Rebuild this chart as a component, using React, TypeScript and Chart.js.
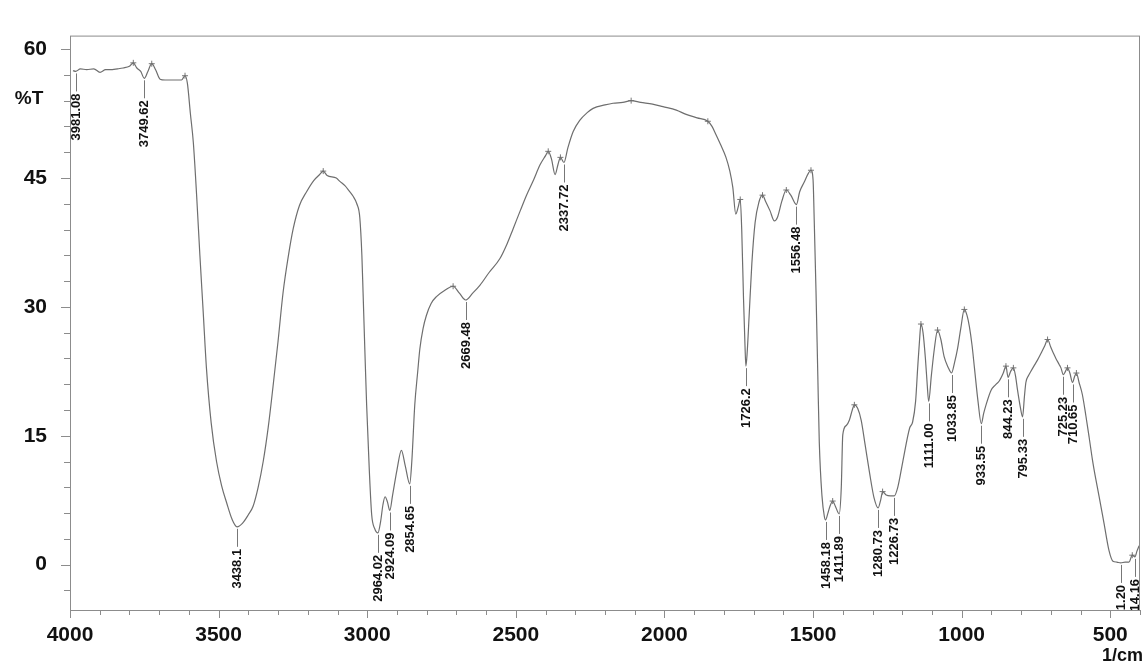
import { useEffect, useRef } from 'react';
import { Chart, registerables } from 'chart.js';

Chart.register(...registerables);

// Spectrum: wavenumber (1/cm) and transmittance (%T)
const wavenumbers = [
  3990, 3981, 3965, 3944, 3920, 3899, 3880, 3866, 3840, 3821, 3800, 3787, 3775, 3762, 3750, 3738, 3725, 3712,
  3697, 3680, 3650, 3625, 3613, 3605, 3595, 3585, 3574, 3563, 3552, 3541, 3525, 3507, 3490, 3473, 3455, 3438,
  3420, 3400, 3384, 3367, 3350, 3333, 3317, 3300, 3283, 3265, 3249, 3228, 3204, 3180, 3160, 3148, 3135, 3104,
  3092, 3075, 3059, 3048, 3035, 3025, 3018, 3014, 3008, 3002, 2993, 2985, 2975, 2964, 2955, 2947, 2940, 2932,
  2924, 2915, 2900, 2885, 2872, 2857, 2850, 2840, 2830, 2823, 2812, 2801, 2785, 2767, 2740, 2711, 2690, 2669,
  2645, 2621, 2590, 2554, 2530, 2509, 2485, 2464, 2440, 2419, 2400, 2391, 2380, 2368, 2358, 2350, 2338, 2325,
  2307, 2285, 2260, 2240, 2200, 2173, 2140, 2112, 2080, 2040, 2005, 1960, 1927, 1890, 1854, 1840, 1826, 1810,
  1793, 1780, 1770, 1760, 1752, 1745, 1740, 1734, 1729, 1726, 1722, 1715, 1706, 1695, 1682, 1670, 1660, 1645,
  1630, 1620, 1605, 1590, 1575, 1556, 1545, 1530, 1515, 1507, 1500, 1496, 1490, 1484, 1479, 1470, 1462, 1458,
  1450, 1445, 1434, 1425, 1412, 1405, 1400, 1388, 1378, 1368, 1361, 1350, 1338, 1325, 1310, 1295, 1281, 1272,
  1266, 1254, 1240, 1227, 1215, 1198, 1175, 1165, 1155, 1148, 1141, 1137, 1130, 1122, 1116, 1111, 1102, 1092,
  1081, 1070, 1059, 1046, 1034, 1024, 1014, 1003, 991, 982, 974, 965, 957, 945, 934, 926, 918, 901, 887, 873,
  860, 851, 844, 835, 826, 819, 812, 803, 795, 789, 784, 775, 767, 757, 745, 730, 720, 711, 700, 690, 683, 672,
  666, 658, 652, 644, 636, 627, 620, 614, 605, 594, 582, 571, 560, 549, 538, 521, 504, 491, 478, 465, 450, 437,
  426, 417, 410, 403,
];

const transmittance = [
  57.5, 57.4, 57.7, 57.6, 57.7, 57.3, 57.6, 57.6, 57.7, 57.8, 58.0, 58.4, 57.8, 57.4, 56.6, 57.4, 58.3, 57.6,
  56.5, 56.4, 56.4, 56.4, 56.9, 56.0, 52.5, 49.1, 43.0, 36.0, 29.5, 22.9, 16.5, 12.0, 9.2, 7.2, 5.3, 4.4,
  4.8, 5.8, 6.8, 9.0, 12.0, 16.0, 20.7, 26.0, 31.7, 36.0, 39.1, 41.8, 43.4, 44.7, 45.4, 45.8, 45.3, 45.0,
  44.6, 44.1, 43.4, 42.9, 42.0, 40.4, 36.0, 31.7, 25.0, 18.6, 11.0, 5.8, 4.2, 3.7, 5.0, 7.0, 7.9, 7.3,
  6.3, 8.0, 11.0, 13.3, 11.5, 9.4, 12.0, 18.6, 22.5, 25.1, 27.5, 29.0, 30.4, 31.2, 31.9, 32.4, 31.6, 30.8,
  31.6, 32.5, 34.0, 35.6, 37.3, 39.1, 41.2, 43.0, 44.8, 46.5, 47.6, 48.1, 47.2, 45.4, 46.6, 47.4, 46.8, 48.5,
  50.4, 51.7, 52.6, 53.1, 53.5, 53.7, 53.8, 54.0, 53.8, 53.6, 53.3, 52.9, 52.4, 52.0, 51.6, 51.0, 50.0, 48.8,
  47.4, 45.8, 43.9, 40.8, 41.6, 42.5, 39.0, 31.0, 25.5, 23.1, 24.5, 29.0, 35.0, 39.8, 42.2, 43.0, 42.3, 41.2,
  40.0, 40.4, 42.3, 43.6, 43.0, 41.9, 43.4, 44.5, 45.6, 45.9, 44.8, 40.0, 31.7, 22.0, 14.2, 8.0, 5.6, 5.2,
  6.0, 6.6, 7.4, 6.8, 5.9, 9.0, 15.1, 16.2, 16.8, 18.0, 18.6, 18.2, 16.8, 14.0, 10.7, 7.8, 6.6, 7.6,
  8.5, 8.1, 8.0, 8.0, 9.0, 12.0, 15.9, 16.6, 19.0, 22.9, 26.5, 28.0, 27.0, 24.0, 21.0, 19.0, 22.0, 25.1,
  27.3, 26.2, 24.2, 23.0, 22.3, 23.5, 25.1, 27.5, 29.7, 29.0, 27.7, 25.5, 22.9, 19.0, 16.4, 17.6, 18.6, 20.3, 20.9, 21.4,
  22.3, 23.1, 21.8, 22.5, 22.9, 22.0, 20.3, 18.4, 17.2, 19.5, 21.2, 22.0, 22.5, 23.1, 23.8, 24.8, 25.5, 26.2, 25.3, 24.5, 24.0, 23.3,
  22.9, 22.1, 22.4, 22.9, 22.3, 21.2, 21.9, 22.3, 21.2, 19.8, 17.3, 14.8, 12.2, 10.0, 8.0, 4.8, 1.6, 0.4, 0.3, 0.2, 0.3, 0.3,
  1.1, 0.9, 1.6, 2.2,
];

// Peak annotations: printed text and the wavenumber where each label's leader sits
const peakTexts = [
  '3981.08', '3749.62', '3438.1', '2964.02', '2924.09', '2854.65', '2669.48', '2337.72', '1726.2', '1556.48',
  '1458.18', '1411.89', '1280.73', '1226.73', '1111.00', '1033.85', '933.55', '844.23', '795.33', '725.23',
  '710.65', '461.20', '414.16',
];
const peakPositions = [
  3981, 3750, 3438, 2964, 2924, 2857, 2669, 2338, 1726, 1556,
  1458, 1412, 1281, 1227, 1111, 1034, 934, 844, 795, 658,
  627, 465, 417,
];

// Small cross markers at local maxima
const markerWavenumbers = [
  3787, 3725, 3613, 3148, 2711, 2391, 2350, 2112, 1854, 1745, 1670, 1590, 1507, 1434, 1361, 1266,
  1137, 1081, 991, 851, 826, 711, 644, 614, 426,
];

const xTickValues: number[] = [];
for (let v = 400; v <= 4000; v += 100) xTickValues.push(v);
const yTickValues: number[] = [];
for (let v = -3; v <= 60; v += 3) yTickValues.push(v);

const X_MIN = 400;
const X_MAX = 4000;
const Y_MIN = -5.28;
const Y_MAX = 61.57;

const FONT = '"Liberation Sans", Arial, Helvetica, sans-serif';

function interpT(wn: number): number {
  for (let i = 0; i < wavenumbers.length - 1; i++) {
    const a = wavenumbers[i];
    const b = wavenumbers[i + 1];
    if (wn <= a && wn >= b) {
      const t = (a - wn) / (a - b);
      return transmittance[i] + t * (transmittance[i + 1] - transmittance[i]);
    }
  }
  return wn > wavenumbers[0] ? transmittance[0] : transmittance[transmittance.length - 1];
}

const decorPlugin = {
  id: 'irDecor',
  afterDatasetsDraw(chart: any) {
    const { ctx, chartArea: a, scales } = chart;
    const x = scales.x;
    const y = scales.y;
    ctx.save();

    // frame
    ctx.strokeStyle = '#8c8c8c';
    ctx.lineWidth = 1;
    ctx.strokeRect(a.left + 0.5, a.top + 0.5, a.right - a.left - 1, a.bottom - a.top);

    // ticks
    ctx.beginPath();
    yTickValues.forEach((v) => {
      const py = Math.round(y.getPixelForValue(v)) + 0.5;
      const len = v % 15 === 0 ? 9 : 6;
      ctx.moveTo(a.left - len, py);
      ctx.lineTo(a.left, py);
    });
    xTickValues.forEach((v) => {
      const px = Math.round(x.getPixelForValue(v)) + 0.5;
      const len = v % 500 === 0 ? 8 : 5;
      ctx.moveTo(px, a.bottom);
      ctx.lineTo(px, a.bottom + len);
    });
    ctx.stroke();

    // peak labels (clipped to plot area)
    ctx.save();
    ctx.beginPath();
    ctx.rect(a.left, a.top, a.right - a.left, a.bottom - a.top);
    ctx.clip();
    ctx.font = `bold 13px ${FONT}`;
    ctx.textAlign = 'right';
    ctx.textBaseline = 'middle';
    peakPositions.forEach((wn, i) => {
      const px = Math.round(x.getPixelForValue(wn)) + 0.5;
      const py = y.getPixelForValue(interpT(wn));
      ctx.strokeStyle = '#777';
      ctx.beginPath();
      ctx.moveTo(px, py + 2);
      ctx.lineTo(px, py + 20);
      ctx.stroke();
      ctx.save();
      ctx.translate(px, py + 22);
      ctx.rotate(-Math.PI / 2);
      ctx.fillStyle = '#111';
      ctx.fillText(peakTexts[i], 0, 0);
      ctx.restore();
    });
    ctx.restore();

    // axis titles
    ctx.fillStyle = '#111';
    ctx.font = `bold 19px ${FONT}`;
    ctx.textAlign = 'center';
    ctx.textBaseline = 'middle';
    ctx.fillText('%T', 29, 99);
    ctx.textAlign = 'right';
    ctx.font = `bold 18px ${FONT}`;
    ctx.fillText('1/cm', 1143, 656);

    ctx.restore();
  },
};

export default function App() {
  const canvasRef = useRef<HTMLCanvasElement | null>(null);

  useEffect(() => {
    if (!canvasRef.current) return;
    const chart = new Chart(canvasRef.current, {
      type: 'line',
      data: {
        datasets: [
          {
            data: wavenumbers.map((w, i) => ({ x: w, y: transmittance[i] })),
            borderColor: '#6e6e6e',
            borderWidth: 1.2,
            pointRadius: 0,
            fill: false,
            cubicInterpolationMode: 'monotone',
          },
          {
            type: 'scatter',
            data: markerWavenumbers.map((w) => ({ x: w, y: interpT(w) })),
            pointStyle: 'cross',
            pointRadius: 3,
            borderColor: '#777',
            borderWidth: 1,
            showLine: false,
          } as any,
        ],
      },
      options: {
        animation: false,
        responsive: false,
        devicePixelRatio: 1,
        layout: { padding: { top: 15, right: 4, left: 0, bottom: 0 } },
        plugins: {
          legend: { display: false },
          tooltip: { enabled: false },
        },
        scales: {
          x: {
            type: 'linear',
            reverse: true,
            min: X_MIN,
            max: X_MAX,
            afterBuildTicks: (s: any) => {
              s.ticks = xTickValues.map((v) => ({ value: v }));
            },
            afterFit: (s: any) => {
              s.height = 56;
            },
            grid: { display: false, drawTicks: false },
            border: { display: false },
            ticks: {
              autoSkip: false,
              maxRotation: 0,
              padding: 13,
              color: '#111',
              font: { family: FONT, size: 21, weight: 'bold' },
              callback: (v: any) => (Math.round(Number(v)) % 500 === 0 ? String(Math.round(Number(v))) : ''),
            },
          },
          y: {
            type: 'linear',
            min: Y_MIN,
            max: Y_MAX,
            afterBuildTicks: (s: any) => {
              s.ticks = yTickValues.map((v) => ({ value: v }));
            },
            afterFit: (s: any) => {
              s.width = 70;
            },
            grid: { display: false, drawTicks: false },
            border: { display: false },
            ticks: {
              autoSkip: false,
              padding: 23,
              color: '#111',
              font: { family: FONT, size: 21, weight: 'bold' },
              callback: (v: any) => (Math.round(Number(v)) % 15 === 0 ? String(Math.round(Number(v))) : ''),
            },
          },
        },
      },
      plugins: [decorPlugin],
    });
    return () => chart.destroy();
  }, []);

  return (
    <div style={{ position: 'fixed', left: 0, top: 0, width: 1145, height: 666, background: '#fff' }}>
      <canvas ref={canvasRef} width={1145} height={666} style={{ display: 'block' }} />
    </div>
  );
}
